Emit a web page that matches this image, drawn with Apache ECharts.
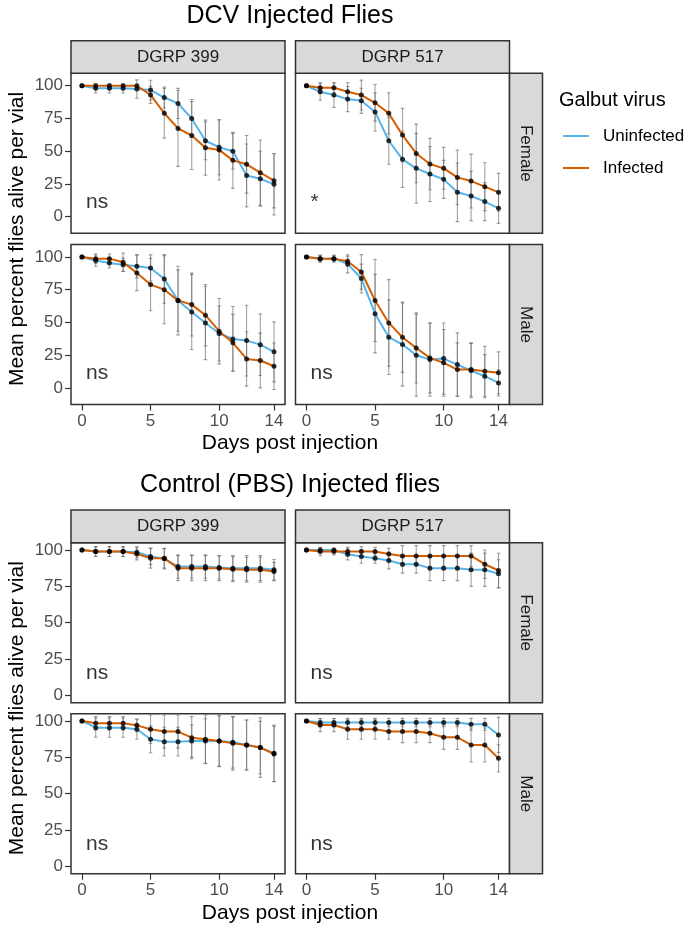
<!DOCTYPE html>
<html>
<head>
<meta charset="utf-8">
<title>Galbut virus survival after injection</title>
<script src="https://cdn.jsdelivr.net/npm/echarts@6/dist/echarts.min.js"></script>
<style>
  html, body { margin: 0; padding: 0; background: #fff; }
  #chart { width: 686px; height: 926px; }
</style>
</head>
<body>
<div id="chart"></div>
<script>
// ---- data -------------------------------------------------------------
const days = [0, 1, 2, 3, 4, 5, 6, 7, 8, 9, 10, 11, 12, 13, 14];
const dayTicks = [0, 5, 10, 14];
const survivalTicks = [0, 25, 50, 75, 100];
const strains = ['DGRP 399', 'DGRP 517'];
const sexes = ['Female', 'Male'];
const plotTitles = ['DCV Injected Flies', 'Control (PBS) Injected flies'];
const groupNames = ['Uninfected', 'Infected'];
// significance labels per plot, ordered 399 F, 517 F, 399 M, 517 M
const sigLabels = [['ns', '*', 'ns', 'ns'], ['ns', 'ns', 'ns', 'ns']];

// DCV injected, DGRP 399 female
const dcv399FemUninf    = [100, 98, 98, 98, 97.5, 96.7, 91, 86.5, 75, 58, 53, 50, 31.5, 29, 24.7];
const dcv399FemUninfErr = [0, 3.5, 3.5, 3.5, 7, 7.5, 8, 11.5, 14.5, 14.5, 21, 13.6, 24, 21, 23.4];
const dcv399FemInf      = [100, 100, 100, 100, 100, 93, 79, 67.4, 62, 52.7, 51, 43, 40, 33.6, 27.5];
const dcv399FemInfErr   = [0, 0, 0, 0, 0, 6.5, 19, 29, 26, 21, 23, 21.4, 22, 25, 20.8];
// DCV injected, DGRP 517 female
const dcv517FemUninf    = [100, 95.4, 92.9, 89.8, 88.5, 80, 58, 43.8, 36.9, 32.6, 28.5, 18.6, 15.8, 11.5, 6.4];
const dcv517FemUninfErr = [0, 6.5, 9.4, 9.6, 9.6, 14.6, 18, 21.4, 26.7, 21, 14.5, 22.4, 18.8, 14.5, 11.5];
const dcv517FemInf      = [100, 98.5, 98.5, 95.4, 92.9, 87, 78.9, 62.3, 48.3, 40.2, 36.9, 30, 27.2, 22.9, 18.6];
const dcv517FemInfErr   = [0, 3.8, 3.8, 6.9, 11.4, 14, 15.8, 20.4, 22.4, 19.6, 16, 20.9, 20.6, 18.3, 14.5];
// DCV injected, DGRP 399 male
const dcv399MalUninf    = [100, 97.2, 95.4, 94.1, 92.9, 91.6, 83.2, 66.7, 58, 49.6, 41.5, 37.4, 36.1, 33, 27.5];
const dcv399MalUninfErr = [0, 4.3, 3.8, 5, 8.9, 10, 18.6, 26.2, 28.7, 28, 21, 24.7, 27, 23.5, 22.9];
const dcv399MalInf      = [100, 98.7, 98.7, 95.9, 87.8, 78.9, 75, 66.7, 63.6, 55.5, 43.3, 34.4, 22.1, 20.9, 16.5];
const dcv399MalInfErr   = [0, 3.6, 3.6, 7, 13.5, 20, 26, 23.4, 24, 23.4, 25, 21.7, 20.8, 20.9, 17.8];
// DCV injected, DGRP 517 male
const dcv517MalUninf    = [100, 98.7, 98.7, 94.7, 83.5, 56.7, 38.7, 33.1, 24.9, 21.6, 22.4, 17.8, 13.2, 8.9, 3.8];
const dcv517MalUninfErr = [0, 2.5, 2.6, 6.9, 11, 30, 28.5, 31.8, 31.3, 28, 27.2, 24.2, 20.8, 16.5, 10];
const dcv517MalInf      = [100, 98.7, 98.7, 96.7, 88.5, 66.7, 49.6, 38.7, 30.5, 22.9, 19.1, 14, 14, 12.7, 11.5];
const dcv517MalInfErr   = [0, 2.5, 2.6, 3.8, 13.3, 31.3, 33.1, 26.9, 26.8, 26.7, 25.5, 20.4, 20.4, 19.1, 16];

// PBS injected, DGRP 399 female
const pbs399FemUninf    = [100, 98.9, 98.9, 98.9, 98.4, 95.5, 93.9, 88.6, 88.6, 88.6, 88, 87.5, 87.5, 87.5, 86.4];
const pbs399FemUninfErr = [0, 3.4, 3.4, 3.4, 3.9, 5.6, 7, 8, 8, 8, 8, 8.6, 8.6, 8.6, 7];
const pbs399FemInf      = [100, 98.9, 98.9, 98.9, 97.3, 94.3, 94.3, 87.5, 87.5, 87.5, 87.5, 86.8, 86.4, 86.4, 85.2];
const pbs399FemInfErr   = [0, 3.4, 3.4, 3.4, 4.1, 6.8, 6.8, 8.6, 8.6, 8.6, 8.6, 8.6, 8.6, 8.6, 6.3];
// PBS injected, DGRP 517 female
const pbs517FemUninf    = [100, 100, 100, 97, 95.5, 94.3, 92.7, 90.2, 90.2, 87.5, 87.5, 87.5, 86.4, 86.4, 83.6];
const pbs517FemUninfErr = [0, 0, 0, 3.8, 4.6, 3.4, 5.7, 6.1, 6.1, 8.6, 8.6, 8.6, 11.4, 11.4, 9.7];
const pbs517FemInf      = [100, 98.9, 98.9, 98.9, 98.9, 98.9, 97.3, 95.9, 95.9, 95.9, 95.9, 95.9, 95.9, 90.2, 85.9];
const pbs517FemInfErr   = [0, 2.9, 2.3, 2.9, 3.4, 2.9, 3.8, 7.1, 7.1, 7.1, 7.1, 7.1, 7.1, 9.8, 11.8];
// PBS injected, DGRP 399 male
const pbs399MalUninf    = [100, 95.4, 95.4, 95.4, 94.3, 87.4, 85.8, 85.8, 86.2, 86.2, 86.2, 85.3, 83.5, 81.7, 77.8];
const pbs399MalUninfErr = [0, 6.6, 6.6, 6.6, 6.9, 9.2, 9.9, 9.9, 11.2, 15.3, 17.6, 17.7, 17.2, 20.5, 19.4];
const pbs399MalInf      = [100, 98.4, 98.4, 98.4, 97, 94.3, 92.7, 92.7, 88.5, 87.4, 86.2, 84.6, 83.5, 81.7, 77.3];
const pbs399MalInfErr   = [0, 4.6, 4.6, 4.6, 4.4, 9.8, 11.4, 11.4, 14.5, 16.7, 17.2, 18.4, 17.2, 18, 19];
// PBS injected, DGRP 517 male
const pbs517MalUninf    = [100, 98.9, 98.9, 98.9, 98.9, 98.9, 98.9, 98.9, 98.9, 98.9, 98.9, 98.9, 97.7, 97.7, 90.4];
const pbs517MalUninfErr = [0, 2.8, 2.8, 2.9, 2.9, 2.9, 2.9, 2.9, 2.9, 2.9, 2.9, 2.9, 4.1, 4.1, 12.1];
const pbs517MalInf      = [100, 97.2, 97.2, 94.3, 94.3, 94.3, 92.7, 92.7, 92.7, 91.5, 88.8, 88.8, 83.5, 83.5, 74.3];
const pbs517MalInfErr   = [0, 4.5, 4.5, 6.9, 6.9, 6.9, 5.3, 7.6, 7.6, 6.4, 8.3, 8.3, 11.7, 11.7, 9.4];

// panel data indexed [plot][sex][strain]
const panelData = [
  [
    [{ uninf: dcv399FemUninf, uninfErr: dcv399FemUninfErr, inf: dcv399FemInf, infErr: dcv399FemInfErr },
     { uninf: dcv517FemUninf, uninfErr: dcv517FemUninfErr, inf: dcv517FemInf, infErr: dcv517FemInfErr }],
    [{ uninf: dcv399MalUninf, uninfErr: dcv399MalUninfErr, inf: dcv399MalInf, infErr: dcv399MalInfErr },
     { uninf: dcv517MalUninf, uninfErr: dcv517MalUninfErr, inf: dcv517MalInf, infErr: dcv517MalInfErr }]
  ],
  [
    [{ uninf: pbs399FemUninf, uninfErr: pbs399FemUninfErr, inf: pbs399FemInf, infErr: pbs399FemInfErr },
     { uninf: pbs517FemUninf, uninfErr: pbs517FemUninfErr, inf: pbs517FemInf, infErr: pbs517FemInfErr }],
    [{ uninf: pbs399MalUninf, uninfErr: pbs399MalUninfErr, inf: pbs399MalInf, infErr: pbs399MalInfErr },
     { uninf: pbs517MalUninf, uninfErr: pbs517MalUninfErr, inf: pbs517MalInf, infErr: pbs517MalInfErr }]
  ]
];

// ---- layout & style ---------------------------------------------------
const FONT = '"Liberation Sans", Arial, Helvetica, sans-serif';
const COLORS = { uninf: '#56B4E9', inf: '#D55E00' };
const ERR_COLOR = 'rgba(105,105,105,0.62)';
const FRAME = '#333333';
const colLeft = [71, 295.5];
const panelW = 214;
const panelH = 160;
const rowTop = [[73.3, 244.5], [542.7, 713.7]];
const stripH = 32.6;
const sideStripW = 33;
const xRange = [-0.8, 14.8];
const yRange = [[-12.7, 109.5], [-5, 105]];
const sigAt = [[0.3, 11], [0.3, 15]];
const titleY = [16.5, 485];
const xTitleY = [443.5, 913];
const plotCenterX = 290;

const grids = [], xAxes = [], yAxes = [], series = [], graphics = [];

function errorBars(k, values, errs) {
  return {
    type: 'custom', xAxisIndex: k, yAxisIndex: k, z: 2, silent: true, clip: true,
    data: days.map((d, i) => [d, values[i] - errs[i], values[i] + errs[i], errs[i]]),
    encode: { x: 0, y: [1, 2] },
    renderItem(params, api) {
      if (api.value(3) <= 0) return null;
      const x = api.value(0);
      const lo = api.coord([x, api.value(1)]);
      const hi = api.coord([x, api.value(2)]);
      const cap = 1.8;
      const st = { stroke: ERR_COLOR, lineWidth: 1.1 };
      return {
        type: 'group', children: [
          { type: 'line', shape: { x1: lo[0], y1: lo[1], x2: hi[0], y2: hi[1] }, style: st },
          { type: 'line', shape: { x1: lo[0] - cap, y1: lo[1], x2: lo[0] + cap, y2: lo[1] }, style: st },
          { type: 'line', shape: { x1: hi[0] - cap, y1: hi[1], x2: hi[0] + cap, y2: hi[1] }, style: st }
        ]
      };
    }
  };
}

function lineSeries(k, name, values, color) {
  return {
    type: 'line', name, xAxisIndex: k, yAxisIndex: k, z: 3, silent: true,
    data: days.map((d, i) => [d, values[i]]),
    showSymbol: false, lineStyle: { color, width: 2 }, itemStyle: { color }
  };
}

function pointSeries(k, values) {
  return {
    type: 'scatter', xAxisIndex: k, yAxisIndex: k, z: 4, silent: true,
    data: days.map((d, i) => [d, values[i]]),
    symbol: 'circle', symbolSize: 5, itemStyle: { color: '#000' }
  };
}

let k = 0;
for (let p = 0; p < 2; p++) {
  for (let r = 0; r < 2; r++) {
    for (let c = 0; c < 2; c++) {
      const d = panelData[p][r][c];
      const left = colLeft[c], top = rowTop[p][r];
      grids.push({
        left, top, width: panelW, height: panelH, show: true,
        backgroundColor: '#fff', borderColor: FRAME, borderWidth: 1.5,
        outerBoundsMode: 'none'
      });
      const bottomRow = r === 1, leftCol = c === 0;
      xAxes.push({
        type: 'value', gridIndex: k, min: xRange[0], max: xRange[1],
        axisLine: { show: false, onZero: false }, splitLine: { show: false },
        axisTick: { show: bottomRow, customValues: dayTicks, length: 6, lineStyle: { color: FRAME, width: 1.2 } },
        axisLabel: { show: bottomRow, customValues: dayTicks, color: '#4d4d4d', fontSize: 17, fontFamily: FONT, margin: 8 }
      });
      yAxes.push({
        type: 'value', gridIndex: k, min: yRange[p][0], max: yRange[p][1],
        axisLine: { show: false, onZero: false }, splitLine: { show: false },
        axisTick: { show: leftCol, customValues: survivalTicks, length: 6, lineStyle: { color: FRAME, width: 1.2 } },
        axisLabel: { show: leftCol, customValues: survivalTicks, color: '#4d4d4d', fontSize: 17, fontFamily: FONT, margin: 8 }
      });
      series.push(errorBars(k, d.uninf, d.uninfErr));
      series.push(errorBars(k, d.inf, d.infErr));
      series.push(lineSeries(k, groupNames[0], d.uninf, COLORS.uninf));
      series.push(lineSeries(k, groupNames[1], d.inf, COLORS.inf));
      series.push(pointSeries(k, d.uninf));
      series.push(pointSeries(k, d.inf));
      series.push({
        type: 'scatter', xAxisIndex: k, yAxisIndex: k, z: 5, silent: true,
        data: [[sigAt[p][0], sigAt[p][1], sigLabels[p][r * 2 + c]]],
        symbolSize: 0,
        label: {
          show: true, position: 'right', distance: 0,
          formatter: (prm) => prm.value[2],
          color: '#000', fontSize: 21, fontFamily: FONT
        }
      });

      // strain strip above the top row
      if (r === 0) {
        graphics.push({
          type: 'rect', z: 10,
          shape: { x: left, y: top - stripH, width: panelW, height: stripH },
          style: { fill: '#d9d9d9', stroke: FRAME, lineWidth: 1.5 }
        });
        graphics.push({
          type: 'text', z: 11, x: left + panelW / 2, y: top - stripH / 2,
          style: { text: strains[c], fill: '#1a1a1a', font: '17px ' + FONT, align: 'center', verticalAlign: 'middle' }
        });
      }
      // sex strip on the right column
      if (c === 1) {
        const sx = left + panelW;
        graphics.push({
          type: 'rect', z: 10,
          shape: { x: sx, y: top, width: sideStripW, height: panelH },
          style: { fill: '#d9d9d9', stroke: FRAME, lineWidth: 1.5 }
        });
        graphics.push({
          type: 'text', z: 11, x: sx + sideStripW / 2, y: top + panelH / 2, rotation: -Math.PI / 2,
          style: { text: sexes[r], fill: '#1a1a1a', font: '17px ' + FONT, align: 'center', verticalAlign: 'middle' }
        });
      }
      k++;
    }
  }
  // plot title, axis titles
  graphics.push({
    type: 'text', z: 11, x: plotCenterX, y: titleY[p],
    style: { text: plotTitles[p], fill: '#000', font: '25px ' + FONT, align: 'center', verticalAlign: 'middle' }
  });
  graphics.push({
    type: 'text', z: 11, x: plotCenterX, y: xTitleY[p],
    style: { text: 'Days post injection', fill: '#000', font: '21px ' + FONT, align: 'center', verticalAlign: 'middle' }
  });
  const yMid = (rowTop[p][0] + rowTop[p][1] + panelH) / 2;
  graphics.push({
    type: 'text', z: 11, x: 17, y: yMid, rotation: Math.PI / 2,
    style: { text: 'Mean percent flies alive per vial', fill: '#000', font: '21px ' + FONT, align: 'center', verticalAlign: 'middle' }
  });
}

// legend
graphics.push({
  type: 'text', z: 11, x: 559, y: 100,
  style: { text: 'Galbut virus', fill: '#000', font: '20px ' + FONT, align: 'left', verticalAlign: 'middle' }
});
[[COLORS.uninf, 136], [COLORS.inf, 168]].forEach(([col, y], i) => {
  graphics.push({
    type: 'line', z: 11, shape: { x1: 563, y1: y, x2: 589, y2: y },
    style: { stroke: col, lineWidth: 2 }
  });
  graphics.push({
    type: 'text', z: 11, x: 603, y,
    style: { text: groupNames[i], fill: '#000', font: '17px ' + FONT, align: 'left', verticalAlign: 'middle' }
  });
});

const chart = echarts.init(document.getElementById('chart'), null, { renderer: 'canvas' });
chart.setOption({
  animation: false,
  backgroundColor: '#fff',
  grid: grids,
  xAxis: xAxes,
  yAxis: yAxes,
  series,
  graphic: graphics
});
</script>
</body>
</html>
